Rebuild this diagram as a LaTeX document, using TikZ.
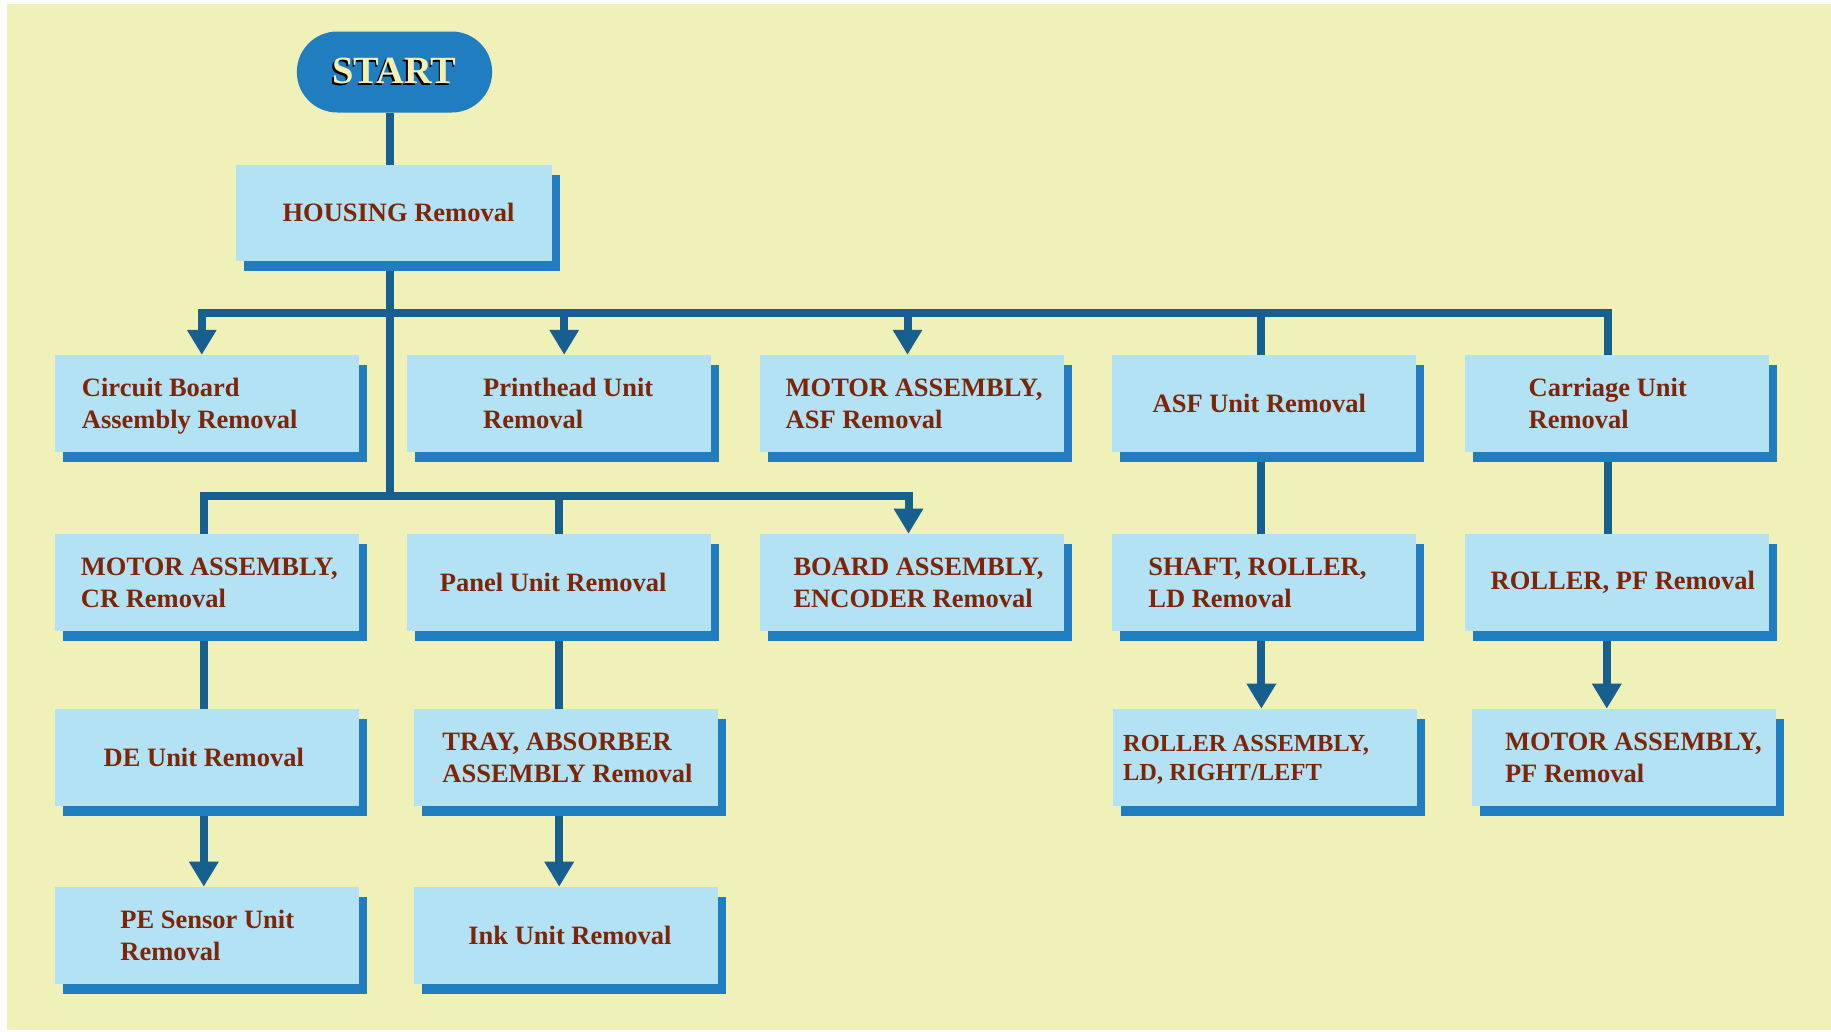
\documentclass[tikz,border=0pt]{standalone}
\usepackage{fontspec}
\setmainfont{Liberation Serif}
\usetikzlibrary{arrows.meta,calc,positioning,shadows,backgrounds,shapes.misc}
\definecolor{paper}{HTML}{F0F0B9}
\definecolor{boxfill}{HTML}{B4E2F5}
\definecolor{boxshade}{HTML}{1F7DC0}
\definecolor{linkblue}{HTML}{175F8E}
\definecolor{label}{HTML}{7E2508}
\definecolor{starttext}{HTML}{F4F0B4}
\newcommand{\castshadow}[1]{\rlap{\kern-1.8pt\raisebox{-1.8pt}{\color{black}#1}}#1}
% text set off sideways by #1 (pt) inside its box
\newcommand{\boxtext}[2]{\kern#1pt\raisebox{-2.5pt}[\height][\depth]{\begin{tabular}{@{}l@{}}#2\end{tabular}}\kern-#1pt}
\newcommand{\boxline}[2]{\kern#1pt#2\kern-#1pt}

\begin{document}
\begin{tikzpicture}[x=1pt,y=-1pt,
  font=\fontsize{26.5}{32}\selectfont\bfseries,
  task/.style={fill=boxfill,text=label,inner sep=0pt,
    minimum width=304pt,minimum height=97pt,
    drop shadow={shadow xshift=8pt,shadow yshift=-10pt,fill=boxshade,opacity=1}},
  startbox/.style={rounded rectangle,fill=boxshade,text=starttext,
    minimum width=202pt,minimum height=81pt,font=\fontsize{38.5}{40}\selectfont\bfseries},
  link/.style={draw=linkblue,line width=8pt},
  arr/.style={link,-{Triangle[width=28pt,length=25pt]}}]
\useasboundingbox (0,0) rectangle (1831,1031);
% start and housing
\node[startbox] (start) at (394.5,72) {\castshadow{START}};
\node[task,minimum width=316pt,minimum height=96pt] (housing) at (393.5,212.7) {\boxline{5}{HOUSING Removal}};
% first row
\node[task] (cb) at (206.8,403.5) {\boxtext{-17}{Circuit Board\\Assembly Removal}};
\node[task] (ph) at (559.2,403.5) {\boxtext{9}{Printhead Unit\\Removal}};
\node[task] (masf) at (911.5,403.5) {\boxtext{2.5}{MOTOR ASSEMBLY,\\ASF Removal}};
\node[task] (asf) at (1264.4,403.5) {\boxline{-5}{ASF Unit Removal}};
\node[task] (carr) at (1616.8,403.5) {\boxtext{-9}{Carriage Unit\\Removal}};
% second row
\node[task] (mcr) at (206.8,582.4) {\boxtext{2.5}{MOTOR ASSEMBLY,\\CR Removal}};
\node[task] (panel) at (559.2,582.4) {\boxline{-6}{Panel Unit Removal}};
\node[task] (board) at (911.5,582.4) {\boxtext{7}{BOARD ASSEMBLY,\\ENCODER Removal}};
\node[task] (shaft) at (1264.4,582.4) {\boxtext{-7}{SHAFT, ROLLER,\\LD Removal}};
\node[task] (rpf) at (1616.8,582.4) {\boxline{6}{ROLLER, PF Removal}};
% third row
\node[task] (de) at (206.8,757.4) {\boxline{-3}{DE Unit Removal}};
\node[task] (tray) at (566,757.4) {\boxtext{1.5}{TRAY, ABSORBER\\ASSEMBLY Removal}};
\node[task,font=\fontsize{24.5}{29}\selectfont\bfseries] (rla) at (1265.1,757.4) {\boxtext{-19}{ROLLER ASSEMBLY,\\LD, RIGHT/LEFT}};
\node[task] (mpf) at (1623.9,757.4) {\boxtext{9.5}{MOTOR ASSEMBLY,\\PF Removal}};
% fourth row
\node[task] (pe) at (206.8,935.4) {\boxtext{0.5}{PE Sensor Unit\\Removal}};
\node[task] (ink) at (566,935.4) {\boxline{4}{Ink Unit Removal}};

\begin{scope}[on background layer]
\fill[white] (0,0) rectangle (1831,1031);
\fill[paper] (7,4) rectangle (1831,1030);
\coordinate (top) at (390,312.5);
\coordinate (low) at (390,496);
% trunk
\draw[link] (top |- start.south) -- (low);
% upper bus
\draw[arr] (top) -| ([xshift=-5pt]cb.north);
\draw[arr] (top) -| ([xshift=5pt]ph.north);
\draw[arr] (top) -| ([xshift=-4pt]masf.north);
\draw[link] (top) -| ([xshift=-3pt]asf.north);
\draw[link] (top) -| ([xshift=-9pt]carr.north);
% lower bus
\draw[link] (low) -| ([xshift=-3pt]mcr.north);
\draw[link] (low) -| (panel.north);
\draw[arr] (low) -| ([xshift=-3pt]board.north);
% columns
\draw[link] ([xshift=-3pt]asf.south) -- ([xshift=-3pt]shaft.north);
\draw[arr] ([xshift=-3pt]shaft.south) -- ([xshift=-3pt]shaft.south |- rla.north);
\draw[link] ([xshift=-9pt]carr.south) -- ([xshift=-9pt]rpf.north);
\draw[arr] ([xshift=-10pt]rpf.south) -- ([xshift=-10pt]rpf.south |- mpf.north);
\draw[link] ([xshift=-3pt]mcr.south) -- ([xshift=-3pt]de.north);
\draw[arr] ([xshift=-3pt]de.south) -- ([xshift=-3pt]pe.north);
\draw[link] (panel.south) -- (panel.south |- tray.north);
\draw[arr] (panel.south |- tray.south) -- (panel.south |- ink.north);
\end{scope}
\end{tikzpicture}
\end{document}
